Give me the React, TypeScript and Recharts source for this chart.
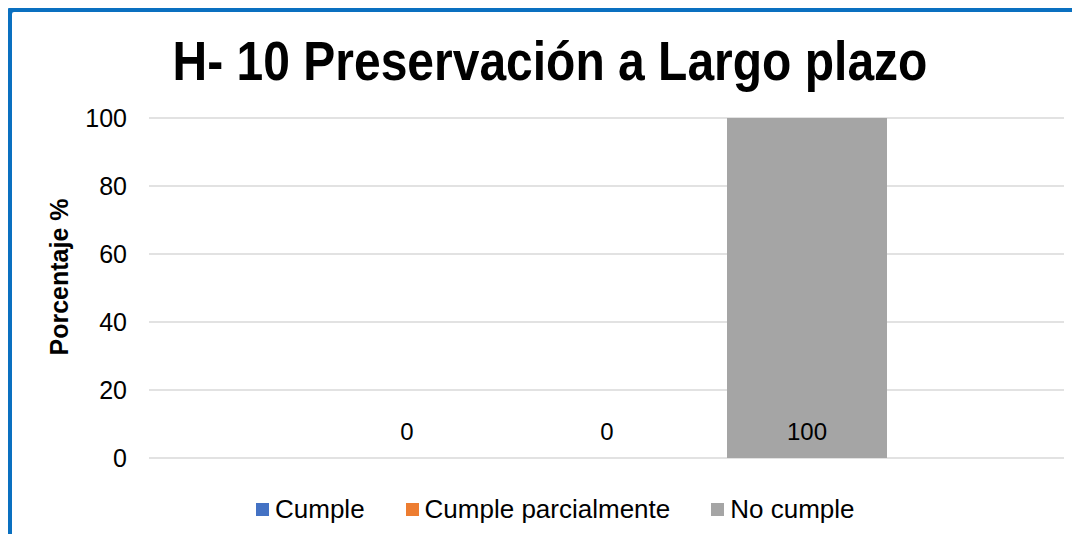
import React from 'react';
import { BarChart, Bar, XAxis, YAxis, CartesianGrid, LabelList } from 'recharts';

const categories = ['H- 10'];
const cumple = [0];
const cumpleParcialmente = [0];
const noCumple = [100];
const yTicks = [0, 20, 40, 60, 80, 100];

const seriesNames = ['Cumple', 'Cumple parcialmente', 'No cumple'];
const seriesKeys = ['cumple', 'parcial', 'noCumple'];
const seriesColors = ['#4472C4', '#ED7D31', '#A5A5A5'];

const data = categories.map((c, i) => ({
  name: c,
  cumple: cumple[i],
  parcial: cumpleParcialmente[i],
  noCumple: noCumple[i],
}));

const FONT = '"Liberation Sans", Arial, Helvetica, sans-serif';

const renderLabel = (props: any) => {
  const { x, y, width, height, value } = props;
  return (
    <text
      x={Number(x) + Number(width) / 2}
      y={Number(y) + Number(height) - 18}
      textAnchor="middle"
      fontFamily={FONT}
      fontSize={24}
      fill="#000"
    >
      {value}
    </text>
  );
};

const LegendBox = () => (
  <div
    style={{
      position: 'absolute',
      top: 493,
      left: 256,
      display: 'flex',
      alignItems: 'center',
      fontFamily: FONT,
      fontSize: 26,
      lineHeight: '32px',
      color: '#000',
      whiteSpace: 'nowrap',
    }}
  >
    {seriesNames.map((n, i) => (
      <div key={n} style={{ display: 'flex', alignItems: 'center', marginRight: 41 }}>
        <span style={{ display: 'inline-block', width: 13, height: 13, background: seriesColors[i], marginRight: 6 }} />
        <span>{n}</span>
      </div>
    ))}
  </div>
);

export default function App() {
  return (
    <div style={{ position: 'relative', margin: -8, width: 1080, height: 542, overflow: 'hidden', background: '#fff' }}>
      <svg width={1080} height={20} style={{ position: 'absolute', left: 0, top: 0 }}>
        <text x={548} y={0.5} textAnchor="middle" fontFamily={FONT} fontWeight="bold" fontSize={26} fill="#000">
          Gráfico 10. Estado actual del proceso de preservación a largo plazo
        </text>
      </svg>
      <div
        style={{
          position: 'absolute',
          left: 6,
          top: 6,
          width: 1200,
          height: 700,
          border: '6px solid #0A70C0',
          borderRadius: 8,
          boxSizing: 'border-box',
          background: '#fff',
        }}
      />
      <div style={{ position: 'absolute', left: 0, top: 0 }}>
        <BarChart
          width={1080}
          height={542}
          data={data}
          margin={{ top: 118, right: 16, bottom: 84, left: 2 }}
          barSize={160}
          barGap={40}
        >
          <text
            x={0}
            y={0}
            transform="translate(550,80) scale(1,1.15)"
            textAnchor="middle"
            fontFamily={FONT}
            fontWeight="bold"
            fontSize={48}
            fill="#000"
          >
            H- 10 Preservación a Largo plazo
          </text>
          <CartesianGrid vertical={false} stroke="#D9D9D9" strokeWidth={1.5} />
          <XAxis dataKey="name" hide />
          <YAxis
            width={147}
            domain={[0, 100]}
            ticks={yTicks}
            axisLine={false}
            tickLine={false}
            tickMargin={16}
            tick={{ fontFamily: FONT, fontSize: 25, fill: '#000' }}
            label={{
              content: () => (
                <text
                  transform="translate(68,277) rotate(-90)"
                  textAnchor="middle"
                  fontFamily={FONT}
                  fontWeight="bold"
                  fontSize={25}
                  fill="#000"
                >
                  Porcentaje %
                </text>
              ),
            }}
          />
          {seriesKeys.map((k, i) => (
            <Bar
              key={k}
              dataKey={k}
              name={seriesNames[i]}
              fill={seriesColors[i]}
              minPointSize={0.01}
              isAnimationActive={false}
            >
              <LabelList dataKey={k} content={renderLabel} />
            </Bar>
          ))}
        </BarChart>
      </div>
      <LegendBox />
    </div>
  );
}
